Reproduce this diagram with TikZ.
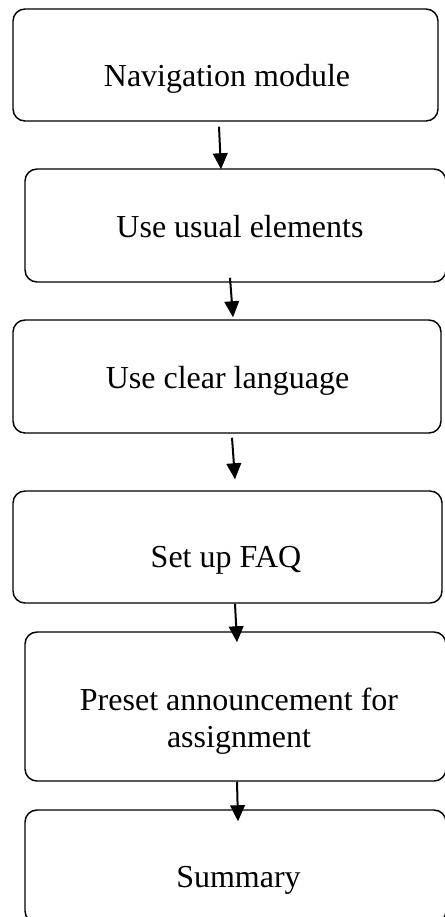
\documentclass[tikz,border=0pt]{standalone}
\usepackage{fontspec}
\setmainfont{Liberation Serif}
\usepackage{tikz}
\usetikzlibrary{arrows.meta}
\tikzset{every picture/.style={line width=0.75pt}}
\tikzset{
  stepbox/.style={draw, line width=1.1pt, rounded corners=9pt, inner sep=0pt},
  steptext/.style={anchor=base, inner sep=0pt, align=center, font=\fontsize{24}{27.75}\selectfont},
  flowarrow/.style={line width=1.5pt, -{Triangle[length=12pt,width=11pt]}}
}

\begin{document}
\begin{tikzpicture}[x=0.75pt,y=0.75pt,yscale=-1,xscale=1]
%set diagram left start at 0, and has height of 917
\clip (0,0) rectangle (445,917);

%Rounded Rect [id:nav]
\node [stepbox, minimum width=425*0.75pt, minimum height=112*0.75pt] (nav) at (225.5,65) {};
\node [steptext] (navtxt) at (227,87) {Navigation module};
%Rounded Rect [id:usual]
\node [stepbox, minimum width=421*0.75pt, minimum height=113*0.75pt] (usual) at (235.5,225.5) {};
\node [steptext] (usualtxt) at (240,237) {Use usual elements};
%Rounded Rect [id:clear]
\node [stepbox, minimum width=428*0.75pt, minimum height=113*0.75pt] (clear) at (227,376.5) {};
\node [steptext] (cleartxt) at (227.5,388) {Use clear language};
%Rounded Rect [id:faq]
\node [stepbox, minimum width=429*0.75pt, minimum height=112*0.75pt] (faq) at (227.5,547) {};
\node [steptext] (faqtxt) at (226,567) {Set up FAQ};
%Rounded Rect [id:preset]
\node [stepbox, minimum width=421*0.75pt, minimum height=149*0.75pt] (preset) at (235.5,706.5) {};
\node [steptext] (presettxt) at (239,747) {Preset announcement for\\assignment};
%Rounded Rect [id:summary]
\node [stepbox, minimum width=421*0.75pt, minimum height=113*0.75pt] (summary) at (235.5,866.5) {};
\node [steptext] (summarytxt) at (238.5,887) {Summary};

%Straight Lines with arrows
\draw [flowarrow] ([shift={(-6.5,5)}]nav.south) -- ([shift={(-14.5,1)}]usual.north);
\draw [flowarrow] ([shift={(-5.5,-5)}]usual.south) -- ([shift={(6,-2)}]clear.north);
\draw [flowarrow] ([shift={(5,4)}]clear.south) -- ([shift={(7.5,-11)}]faq.north);
\draw [flowarrow] ([shift={(7.5,0)}]faq.south) -- ([shift={(1.5,11)}]preset.north);
\draw [flowarrow] ([shift={(1.5,0)}]preset.south) -- ([shift={(2.5,12)}]summary.north);
\end{tikzpicture}
\end{document}
